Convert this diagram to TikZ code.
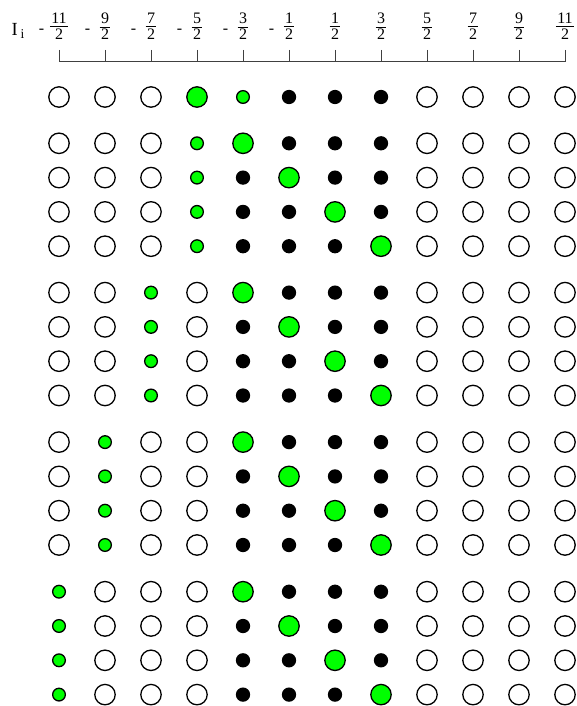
\documentclass[tikz,border=0pt]{standalone}
\usepackage{fontspec}
\setmainfont{Liberation Serif}
\definecolor{brightgreen}{RGB}{0,255,0}
\begin{document}
\begin{tikzpicture}[x=1pt,y=-1pt,
  circ/.style={circle, draw=black, line width=1.3pt, inner sep=0pt},
  wc/.style={circ, fill=white, minimum size=20.4pt},
  bg/.style={circ, fill=brightgreen, minimum size=20.4pt},
  sg/.style={circ, fill=brightgreen, minimum size=12.7pt},
  bk/.style={circle, fill=black, minimum size=14.3pt, inner sep=0pt},
  lbl/.style={inner sep=0pt, anchor=base, font=\fontsize{16}{16}\selectfont},
  fracbar/.style={line width=0.9pt},
  tick/.style={line width=1pt, draw=black!75},
]
\useasboundingbox (0,0) rectangle (577,706);
% header label
\node[inner sep=0pt, anchor=base west, font=\fontsize{18.5}{18.5}\selectfont] (Ilab) at (11.5,36) {I};
\node[inner sep=0pt, anchor=base west, font=\fontsize{13.5}{13.5}\selectfont] (isub) at (20.5,38.5) {i};
% fractions and ticks
\foreach \n [count=\c] in {11,9,7,5,3,1,1,3,5,7,9,11} {
  \pgfmathsetmacro{\xx}{59+46*(\c-1)}
  \node[lbl] (nu\c) at (\xx,24) {\n};
  \node[lbl] (de\c) at (\xx,39.3) {2};
  \draw[fracbar] ([xshift=-1.2pt,yshift=-2.7pt]nu\c.south west) -- ([xshift=1.2pt,yshift=-2.7pt]nu\c.south east);
  \ifnum\c<7
    \node[lbl] (mi\c) at (\xx-17.5,34) {-};
  \fi
  \coordinate (tk\c) at (\xx,50);
  \coordinate (ax\c) at (\xx,62);
  \draw[tick] (tk\c) -- (ax\c);
}
\draw[tick] (ax1) -- (ax12);
% rows of circles
\foreach \y/\row [count=\r] in {
  97/{wc,wc,wc,bg,sg,bk,bk,bk,wc,wc,wc,wc},
  143.3/{wc,wc,wc,sg,bg,bk,bk,bk,wc,wc,wc,wc},
  177.6/{wc,wc,wc,sg,bk,bg,bk,bk,wc,wc,wc,wc},
  211.9/{wc,wc,wc,sg,bk,bk,bg,bk,wc,wc,wc,wc},
  246.2/{wc,wc,wc,sg,bk,bk,bk,bg,wc,wc,wc,wc},
  292.6/{wc,wc,sg,wc,bg,bk,bk,bk,wc,wc,wc,wc},
  326.9/{wc,wc,sg,wc,bk,bg,bk,bk,wc,wc,wc,wc},
  361.2/{wc,wc,sg,wc,bk,bk,bg,bk,wc,wc,wc,wc},
  395.5/{wc,wc,sg,wc,bk,bk,bk,bg,wc,wc,wc,wc},
  442.1/{wc,sg,wc,wc,bg,bk,bk,bk,wc,wc,wc,wc},
  476.4/{wc,sg,wc,wc,bk,bg,bk,bk,wc,wc,wc,wc},
  510.7/{wc,sg,wc,wc,bk,bk,bg,bk,wc,wc,wc,wc},
  545.0/{wc,sg,wc,wc,bk,bk,bk,bg,wc,wc,wc,wc},
  591.7/{sg,wc,wc,wc,bg,bk,bk,bk,wc,wc,wc,wc},
  626.0/{sg,wc,wc,wc,bk,bg,bk,bk,wc,wc,wc,wc},
  660.3/{sg,wc,wc,wc,bk,bk,bg,bk,wc,wc,wc,wc},
  694.6/{sg,wc,wc,wc,bk,bk,bk,bg,wc,wc,wc,wc}} {
  \foreach \t [count=\c] in \row {
    \node[\t] (n\r-\c) at ({59+46*(\c-1)},\y) {};
  }
}
\end{tikzpicture}
\end{document}
